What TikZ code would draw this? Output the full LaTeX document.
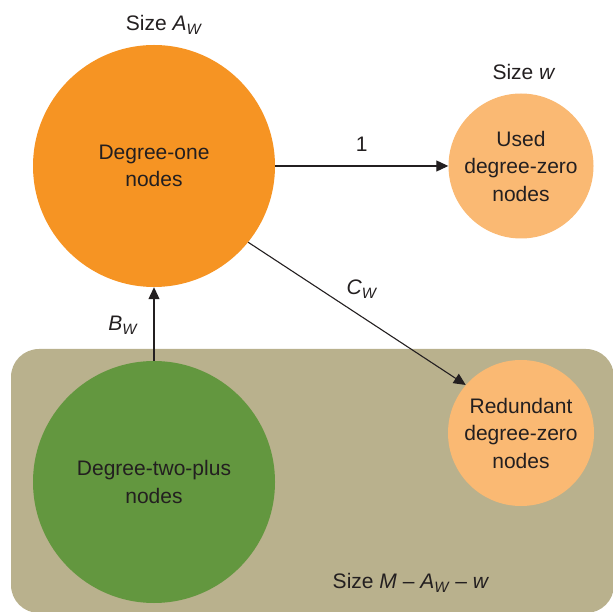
\documentclass[tikz,border=0pt]{standalone}
\usepackage{fontspec}
\setmainfont{Liberation Sans}
\usetikzlibrary{arrows.meta}
\definecolor{darkorange}{RGB}{246,148,35}
\definecolor{lightorange}{RGB}{250,185,115}
\definecolor{leafgreen}{RGB}{99,151,63}
\definecolor{khaki}{RGB}{185,177,141}
\definecolor{ink}{RGB}{35,31,32}
\newcommand{\subW}{\raisebox{-0.35ex}{\fontsize{15}{15}\selectfont\textit{W}}}
\tikzset{
  txt/.style={font=\fontsize{21}{27.5}\selectfont, text=ink, align=center},
  bigset/.style={circle, inner sep=0pt, minimum size=242pt, txt},
  smallset/.style={circle, fill=lightorange, inner sep=0pt, minimum size=145pt, txt},
  conn/.style={draw=ink, line width=1.1pt, -{Triangle[length=12pt,width=11pt]}},
  lbl/.style={txt, inner sep=0pt}
}
\begin{document}
\begin{tikzpicture}[x=1pt,y=1pt]
\useasboundingbox (0,0) rectangle (613,611);
\begin{scope}
\clip (0,0) rectangle (613,611);
\fill[khaki, rounded corners=28pt] (11,-2) rectangle (614,262);
\end{scope}
\node[bigset, fill=darkorange] (one) at (154,445) {Degree-one\\nodes};
\node[bigset, fill=leafgreen] (two) at (154,129) {Degree-two-plus\\nodes};
\node[smallset] (used) at (521,445) {Used\\degree-zero\\nodes};
\node[smallset, minimum size=146pt] (red) at (521,178) {Redundant\\degree-zero\\nodes};
\node[lbl] (sizeA) at (164,586) {Size \textit{A}\subW};
\node[lbl] (sizew) at (524,539) {Size \textit{w}};
\node[lbl] (sizeM) at (411,28) {Size \textit{M} – \textit{A}\subW{} – \textit{w}};
\draw[conn] (one.east) -- (used.west) node[lbl, pos=0.5, above=14pt] (l1) {1};
\draw[conn] (two.north) -- (one.south);
\draw[conn] (one.-39.6) -- (red.139.2);
\node[lbl] (lC) at (362,322) {\textit{C}\subW};
\node[lbl] (lB) at (123,286) {\textit{B}\subW};
\end{tikzpicture}
\end{document}
